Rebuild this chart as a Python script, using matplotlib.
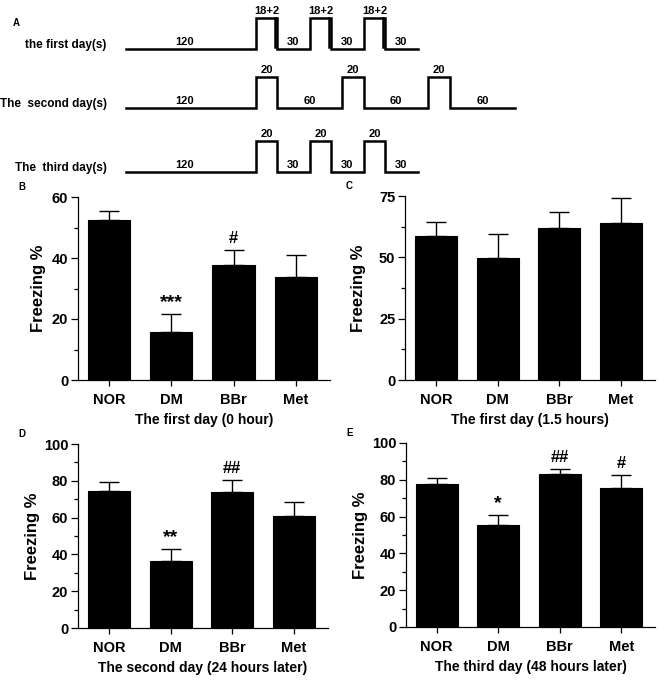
import matplotlib
matplotlib.use("Agg")
import matplotlib.pyplot as plt
from matplotlib.ticker import MultipleLocator
import numpy as np

plt.rcParams['font.family'] = ['Liberation Sans', 'DejaVu Sans']
plt.rcParams['font.weight'] = 'bold'
plt.rcParams['axes.labelweight'] = 'bold'

# ---- data ----
groups = ['NOR', 'DM', 'BBr', 'Met']

b_mean = [52.4, 15.6, 37.7, 33.8]
b_err = [3.0, 6.0, 4.8, 7.2]
b_marks = ['', '***', '#', '']

c_mean = [58.8, 49.7, 61.8, 63.9]
c_err = [5.5, 9.7, 6.8, 10.1]
c_marks = ['', '', '', '']

d_mean = [74.3, 36.2, 73.9, 60.7]
d_err = [5.0, 6.7, 6.5, 7.8]
d_marks = ['', '**', '##', '']

e_mean = [77.5, 55.3, 83.2, 75.5]
e_err = [3.5, 5.8, 2.8, 6.9]
e_marks = ['', '*', '##', '#']

# protocol schematic (seconds): baseline, pulse, baseline, pulse ...
day_names = ['the first day(s)', 'The  second day(s)', 'The  third day(s)']
day_durations = [
    [120, 20, 30, 20, 30, 20, 30],
    [120, 20, 60, 20, 60, 20, 60],
    [120, 20, 30, 20, 30, 20, 30],
]
day_labels = [
    ['120', '18+2', '30', '18+2', '30', '18+2', '30'],
    ['120', '20', '60', '20', '60', '20', '60'],
    ['120', '20', '30', '20', '30', '20', '30'],
]
shock_split = [18, None, None]  # tone 18 s + shock 2 s on the first day

fig = plt.figure(figsize=(6.66, 6.8), dpi=100)
W, H = 666.0, 680.0

# ---- panel A: schematic ----
axA = fig.add_axes([0, 1 - 180 / H, 1, 180 / H])
scale = 1.08  # px per second
x0 = 126
axA.set_xlim(-x0 / scale, (W - x0) / scale)
axA.set_ylim(180, 0)
axA.axis('off')
rows_low = [49, 108, 172]
pulse_h = 31

for r in range(3):
    durs = day_durations[r]
    low = rows_low[r]
    high = low - pulse_h
    edges = np.concatenate([[0], np.cumsum(durs)])
    xs, ys = [edges[0]], [low]
    for i, d in enumerate(durs):
        lvl = high if i % 2 == 1 else low
        xs += [edges[i], edges[i + 1]]
        ys += [lvl, lvl]
    axA.plot(xs, ys, color='black', lw=1.8, solid_joinstyle='miter')
    for i, d in enumerate(durs):
        lvl = high if i % 2 == 1 else low
        cx = (edges[i] + edges[i + 1]) / 2
        if i == 0:
            cx -= 6
        axA.text(cx, lvl - 2, day_labels[r][i], ha='center', va='bottom',
                 fontsize=8)
        if i % 2 == 1 and shock_split[r] is not None:
            xs_ = edges[i] + shock_split[r]
            axA.plot([xs_, xs_], [high, low - 2], color='black', lw=1.8)
    axA.text(-18, low - 4, day_names[r], ha='right', va='center', fontsize=8.5)

fig.text(16 / W, 1 - 23 / H, 'A', fontsize=7, ha='center', va='center')


# ---- bar panels ----
def bar_panel(rect, means, errs, marks, ymax, major, minor, xlabel, letter, lcoord):
    ax = fig.add_axes(rect)
    x = np.arange(len(groups))
    ax.bar(x, means, width=0.68, color='black', edgecolor='black', lw=0.8)
    ax.errorbar(x, means, yerr=[np.zeros(len(errs)), errs], fmt='none',
                ecolor='black', elinewidth=1, capsize=7, capthick=1)
    for xi, m, e, t in zip(x, means, errs, marks):
        if t:
            fs = 14 if '*' in t else 12
            ax.annotate(t, (xi, m + e), xytext=(0, 5), textcoords='offset points',
                        ha='center', va='baseline', fontsize=fs)
    ax.set_xlim(-0.5, 3.55)
    ax.set_ylim(0, ymax)
    ax.yaxis.set_major_locator(MultipleLocator(major))
    ax.yaxis.set_minor_locator(MultipleLocator(minor))
    ax.set_xticks(x)
    ax.set_xticklabels(groups)
    for s in ['top', 'right']:
        ax.spines[s].set_visible(False)
    for s in ['left', 'bottom']:
        ax.spines[s].set_linewidth(0.9)
    ax.tick_params(axis='y', which='major', direction='out', length=5, width=0.9,
                   pad=2, labelsize=10.5)
    ax.tick_params(axis='y', which='minor', direction='out', length=3, width=0.9)
    ax.tick_params(axis='x', direction='out', length=4.5, width=0.9, pad=5,
                   labelsize=10.5)
    ax.set_ylabel('Freezing %', fontsize=12)
    ax.yaxis.set_label_coords(lcoord, 0.5)
    ax.set_xlabel(xlabel, fontsize=10)
    ax.xaxis.set_label_coords(0.5, -0.18)
    fig.text(rect[0] - 56 / W, rect[1] + rect[3] + 10 / H, letter, fontsize=7,
             ha='center', va='center')
    return ax


bar_panel([78 / W, 1 - 380 / H, 252 / W, 183 / H], b_mean, b_err, b_marks,
          60, 20, 10, 'The first day (0 hour)', 'B', -0.127)
bar_panel([405 / W, 1 - 380 / H, 250 / W, 184 / H], c_mean, c_err, c_marks,
          75, 25, 12.5, 'The first day (1.5 hours)', 'C', -0.156)
bar_panel([78 / W, 1 - 628 / H, 250 / W, 184 / H], d_mean, d_err, d_marks,
          100, 20, 10, 'The second day (24 hours later)', 'D', -0.15)
bar_panel([406 / W, 1 - 627 / H, 249 / W, 184 / H], e_mean, e_err, e_marks,
          100, 20, 10, 'The third day (48 hours later)', 'E', -0.153)

plt.savefig('out.png', dpi=100, facecolor='white')
plt.close()
